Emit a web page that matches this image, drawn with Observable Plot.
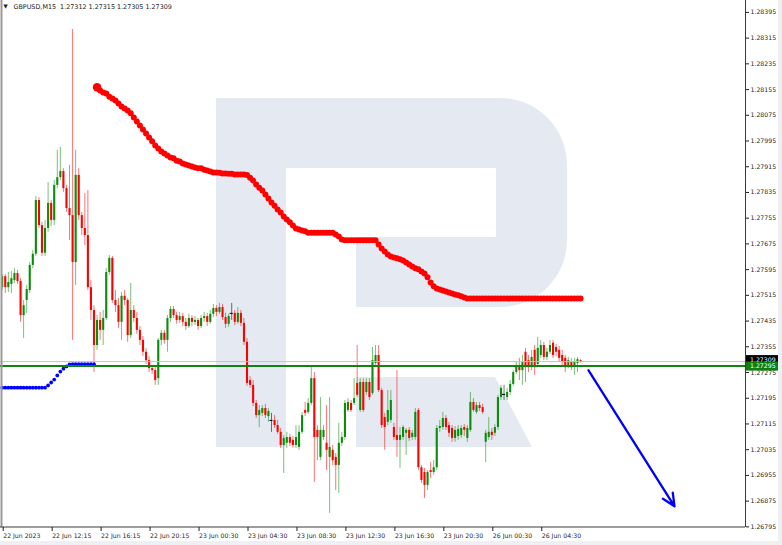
<!DOCTYPE html>
<html><head><meta charset="utf-8">
<script src="https://cdn.jsdelivr.net/npm/d3@7"></script>
<script src="https://cdn.jsdelivr.net/npm/@observablehq/plot@0.6"></script>
<style>html,body{margin:0;padding:0;background:#fff;overflow:hidden}#chart svg{display:block}</style>
</head><body><div id="chart"></div>
<script>
const symbolName = "GBPUSD,M15";

const openP = [1.27539,1.27573,1.27539,1.27549,1.27561,1.27583,1.27558,1.27452,1.27499,1.27530,
1.27608,1.27643,1.27810,1.27732,1.27646,1.27723,1.27801,1.27748,1.27857,1.27881,
1.27900,1.27847,1.27785,1.27763,1.27617,1.27888,1.27763,1.27723,1.27701,1.27539,
1.27468,1.27359,1.27437,1.27406,1.27443,1.27586,1.27630,1.27499,1.27483,1.27431,
1.27512,1.27499,1.27390,1.27468,1.27443,1.27406,1.27375,1.27338,1.27312,1.27287,
1.27281,1.27256,1.27375,1.27397,1.27375,1.27443,1.27471,1.27452,1.27437,1.27449,
1.27431,1.27418,1.27443,1.27431,1.27437,1.27418,1.27443,1.27449,1.27431,1.27456,
1.27474,1.27462,1.27477,1.27446,1.27425,1.27459,1.27459,1.27431,1.27459,1.27428,
1.27369,1.27250,1.27235,1.27179,1.27141,1.27148,1.27163,1.27138,1.27126,1.27126,
1.27110,1.27089,1.27048,1.27055,1.27073,1.27064,1.27048,1.27042,1.27089,1.27157,
1.27151,1.27179,1.27256,1.27095,1.27011,1.27073,1.27055,1.27011,1.27033,1.27011,
1.26986,1.27055,1.27073,1.27157,1.27179,1.27179,1.27241,1.27157,1.27244,1.27213,
1.27244,1.27210,1.27303,1.27328,1.27219,1.27135,1.27120,1.27126,1.27104,1.27079,
1.27064,1.27073,1.27086,1.27095,1.27073,1.27073,1.27157,1.26979,1.26964,1.26924,
1.26970,1.26964,1.26979,1.27101,1.27104,1.27132,1.27110,1.27101,1.27070,1.27076,
1.27079,1.27104,1.27070,1.27095,1.27182,1.27151,1.27172,1.27166,1.27058,1.27073,
1.27089,1.27086,1.27104,1.27197,1.27207,1.27197,1.27213,1.27238,1.27275,1.27297,
1.27281,1.27338,1.27312,1.27290,1.27344,1.27300,1.27328,1.27359,1.27322,1.27338,
1.27366,1.27353,1.27344,1.27328,1.27319,1.27297,1.27306,1.27293,1.27303,1.27312];

const highP = [1.27580,1.27580,1.27586,1.27589,1.27598,1.27592,1.27567,1.27499,1.27546,1.27617,
1.27655,1.27822,1.27819,1.27742,1.27748,1.27866,1.27810,1.27872,1.27966,1.27975,
1.27909,1.27857,1.27919,1.28342,1.27966,1.27909,1.27773,1.27832,1.27841,1.27561,
1.27483,1.27452,1.27462,1.27468,1.27598,1.27639,1.27636,1.27530,1.27505,1.27524,
1.27530,1.27505,1.27552,1.27483,1.27462,1.27418,1.27387,1.27350,1.27325,1.27297,
1.27293,1.27381,1.27406,1.27406,1.27452,1.27480,1.27480,1.27462,1.27462,1.27459,
1.27443,1.27456,1.27452,1.27449,1.27443,1.27452,1.27462,1.27459,1.27468,1.27487,
1.27483,1.27490,1.27487,1.27459,1.27456,1.27490,1.27468,1.27477,1.27468,1.27443,
1.27381,1.27262,1.27250,1.27188,1.27172,1.27172,1.27176,1.27163,1.27148,1.27141,
1.27126,1.27101,1.27079,1.27089,1.27083,1.27076,1.27110,1.27110,1.27151,1.27182,
1.27194,1.27297,1.27275,1.27110,1.27197,1.27110,1.27172,1.27197,1.27048,1.27023,
1.27117,1.27089,1.27188,1.27194,1.27188,1.27256,1.27359,1.27256,1.27256,1.27256,
1.27256,1.27353,1.27359,1.27359,1.27226,1.27148,1.27219,1.27219,1.27117,1.27281,
1.27104,1.27110,1.27101,1.27104,1.27095,1.27163,1.27163,1.26986,1.26977,1.26970,
1.26995,1.27001,1.27110,1.27126,1.27151,1.27141,1.27120,1.27110,1.27107,1.27110,
1.27110,1.27113,1.27110,1.27213,1.27194,1.27182,1.27182,1.27176,1.27095,1.27135,
1.27101,1.27113,1.27204,1.27235,1.27235,1.27226,1.27250,1.27281,1.27306,1.27319,
1.27328,1.27350,1.27328,1.27344,1.27359,1.27384,1.27375,1.27369,1.27350,1.27375,
1.27375,1.27363,1.27356,1.27344,1.27328,1.27322,1.27319,1.27319,1.27322,1.27315];

const lowP = [1.27530,1.27521,1.27524,1.27521,1.27552,1.27549,1.27431,1.27381,1.27459,1.27521,
1.27598,1.27636,1.27723,1.27636,1.27636,1.27711,1.27729,1.27732,1.27847,1.27872,
1.27835,1.27773,1.27686,1.27375,1.27546,1.27748,1.27701,1.27670,1.27530,1.27437,
1.27275,1.27344,1.27375,1.27359,1.27437,1.27577,1.27490,1.27462,1.27412,1.27375,
1.27483,1.27369,1.27381,1.27431,1.27394,1.27359,1.27325,1.27300,1.27275,1.27269,
1.27235,1.27235,1.27359,1.27363,1.27338,1.27431,1.27443,1.27425,1.27428,1.27418,
1.27406,1.27412,1.27418,1.27421,1.27406,1.27412,1.27431,1.27418,1.27425,1.27446,
1.27449,1.27456,1.27437,1.27412,1.27415,1.27437,1.27421,1.27425,1.27418,1.27359,
1.27232,1.27226,1.27169,1.27132,1.27104,1.27138,1.27132,1.27120,1.27089,1.27101,
1.27083,1.27039,1.26961,1.27039,1.27045,1.27039,1.27039,1.27033,1.27083,1.27138,
1.27145,1.27172,1.26933,1.27001,1.27001,1.27064,1.26970,1.26837,1.26986,1.26908,
1.26899,1.27045,1.27064,1.27151,1.27151,1.27172,1.27197,1.27151,1.27151,1.27204,
1.27188,1.27204,1.27297,1.27213,1.27101,1.27033,1.27110,1.27117,1.27064,1.27011,
1.26977,1.27064,1.27017,1.27061,1.27064,1.27064,1.26970,1.26930,1.26883,1.26908,
1.26945,1.26955,1.26970,1.27089,1.27095,1.27095,1.27073,1.27058,1.27058,1.27064,
1.27070,1.27076,1.27058,1.27089,1.27151,1.27145,1.27154,1.27145,1.26995,1.27064,
1.27064,1.27076,1.27095,1.27188,1.27188,1.27188,1.27204,1.27232,1.27269,1.27250,
1.27235,1.27244,1.27275,1.27281,1.27266,1.27293,1.27319,1.27312,1.27312,1.27331,
1.27319,1.27325,1.27306,1.27290,1.27275,1.27287,1.27281,1.27266,1.27275,1.27305];

const closeP = [1.27573,1.27539,1.27555,1.27567,1.27583,1.27558,1.27452,1.27483,1.27533,1.27608,
1.27643,1.27810,1.27732,1.27646,1.27723,1.27801,1.27748,1.27857,1.27881,1.27900,
1.27847,1.27785,1.27763,1.27617,1.27888,1.27763,1.27723,1.27701,1.27539,1.27468,
1.27359,1.27437,1.27406,1.27443,1.27586,1.27630,1.27499,1.27483,1.27431,1.27512,
1.27499,1.27390,1.27468,1.27443,1.27406,1.27375,1.27338,1.27312,1.27287,1.27281,
1.27250,1.27375,1.27397,1.27375,1.27443,1.27471,1.27452,1.27437,1.27449,1.27431,
1.27418,1.27443,1.27431,1.27437,1.27418,1.27443,1.27449,1.27431,1.27456,1.27474,
1.27462,1.27477,1.27446,1.27425,1.27449,1.27459,1.27431,1.27459,1.27428,1.27369,
1.27241,1.27235,1.27179,1.27141,1.27157,1.27163,1.27141,1.27154,1.27126,1.27110,
1.27089,1.27048,1.27070,1.27073,1.27055,1.27048,1.27073,1.27089,1.27141,1.27148,
1.27179,1.27256,1.27073,1.27073,1.27095,1.27095,1.27033,1.27042,1.27001,1.26986,
1.27055,1.27073,1.27179,1.27182,1.27157,1.27194,1.27204,1.27244,1.27157,1.27244,
1.27197,1.27312,1.27328,1.27219,1.27110,1.27104,1.27157,1.27188,1.27073,1.27064,
1.27079,1.27104,1.27095,1.27070,1.27086,1.27151,1.26979,1.26939,1.26924,1.26964,
1.26964,1.26979,1.27101,1.27107,1.27132,1.27104,1.27086,1.27070,1.27095,1.27098,
1.27101,1.27095,1.27101,1.27182,1.27157,1.27172,1.27163,1.27151,1.27086,1.27089,
1.27079,1.27104,1.27197,1.27226,1.27207,1.27213,1.27238,1.27275,1.27297,1.27281,
1.27306,1.27290,1.27290,1.27322,1.27290,1.27350,1.27359,1.27322,1.27338,1.27359,
1.27328,1.27338,1.27319,1.27306,1.27290,1.27312,1.27290,1.27309,1.27315,1.27309];

// red dotted indicator, first bar index 31
const redStart = 31;
const redLine = [1.28162,1.28152,1.28146,1.28143,1.28133,1.28127,1.28121,1.28112,1.28102,1.28096,
1.28090,1.28081,1.28068,1.28056,1.28043,1.28031,1.28018,1.28006,1.27994,1.27981,
1.27972,1.27962,1.27956,1.27950,1.27944,1.27941,1.27934,1.27931,1.27925,1.27922,
1.27919,1.27916,1.27913,1.27910,1.27910,1.27906,1.27903,1.27900,1.27897,1.27897,
1.27896,1.27894,1.27894,1.27893,1.27893,1.27891,1.27891,1.27891,1.27891,1.27889,
1.27881,1.27872,1.27860,1.27850,1.27841,1.27829,1.27816,1.27804,1.27794,1.27782,
1.27773,1.27760,1.27751,1.27742,1.27732,1.27723,1.27720,1.27717,1.27714,1.27710,
1.27710,1.27710,1.27710,1.27710,1.27710,1.27710,1.27710,1.27710,
1.27704,1.27698,1.27689,
1.27686,1.27686,1.27686,1.27686,1.27686,1.27686,1.27686,1.27686,1.27686,1.27686,1.27686,
1.27673,1.27661,1.27651,1.27642,1.27636,1.27633,1.27630,1.27627,
1.27623,1.27617,1.27611,1.27605,1.27599,1.27596,1.27589,1.27583,1.27571,1.27555,
1.27543,1.27536,1.27533,1.27530,1.27527,1.27524,1.27521,1.27518,1.27515,1.27512,
1.27508,
1.27505,1.27505,1.27505,1.27505,1.27505,1.27505,1.27505,1.27505,1.27505,1.27505,
1.27505,1.27505,1.27505,1.27505,1.27505,1.27505,1.27505,1.27505,1.27505,1.27505,
1.27505,1.27505,1.27505,1.27505,1.27505,1.27505,1.27505,1.27505,1.27505,1.27505,
1.27505,1.27505,1.27505,1.27505,1.27505,1.27505,1.27505,1.27505];

// blue dotted indicator, bars 0..30
const blueLine = [1.27228,1.27228,1.27228,1.27228,1.27228,1.27228,1.27228,1.27228,1.27228,1.27228,
1.27228,1.27228,1.27228,1.27228,1.27228,1.27235,1.27244,1.27253,1.27266,1.27278,
1.27287,1.27294,1.27300,1.27301,1.27301,1.27301,1.27301,1.27301,1.27301,1.27301,1.27301];

const levelPrice = 1.27295;
const bidPrice = 1.27309;

const xTickBars = [0,16,32,48,64,80,96,112,128,144,160,176];
const xTickLabels = ["22 Jun 2023","22 Jun 12:15","22 Jun 16:15","22 Jun 20:15","23 Jun 00:30","23 Jun 04:30","23 Jun 08:30","23 Jun 12:30","23 Jun 16:30","23 Jun 20:30","26 Jun 00:30","26 Jun 04:30"];
const yTicks = [1.26795,1.26875,1.26955,1.27035,1.27115,1.27195,1.27275,1.27355,1.27435,1.27515,1.27595,1.27675,1.27755,1.27835,1.27915,1.27995,1.28075,1.28155,1.28235,1.28315,1.28395];

const arrowFrom = [191.6, 1.27282];
const arrowTo = [219.7, 1.26859];

// ---- build tables ----
const bars = closeP.map((c, i) => ({i, open: openP[i], high: highP[i], low: lowP[i], close: c}));
const redPts = redLine.map((v, k) => ({i: redStart + k, v, first: k === 0}));
const bluePts = blueLine.map((v, i) => ({i, v}));
const candleColor = d => d.close > d.open ? "#0c8c0c" : d.close < d.open ? "#ff0000" : "#000000";
const labelOf = new Map(xTickBars.map((b, k) => [b, xTickLabels[k]]));
const last = bars[bars.length - 1];
const f5 = d3.format(".5f");
const titleText = `${symbolName}  ${f5(last.open)} ${f5(last.high)} ${f5(last.low)} ${f5(last.close)}`;

const xDomain = [-0.556, 242.9];
const yDomain = [1.26793, 1.28432];

const SVGNS = "http://www.w3.org/2000/svg";
function watermark(index, scales, values, dim) {
  const g = document.createElementNS(SVGNS, "g");
  const bg = document.createElementNS(SVGNS, "path");
  bg.setAttribute("fill", "#eef0f3");
  bg.setAttribute("d", `M${dim.width-4},0H${dim.width}V${dim.height}H0V${dim.height-4}H${dim.width-4}Z`);
  g.appendChild(bg);
  const p1 = document.createElementNS(SVGNS, "path");
  p1.setAttribute("fill", "#e5eaf2");
  p1.setAttribute("d", "M216,98H500A67,67 0 0 1 567,165V240A67,67 0 0 1 500,307H356V237H496V168H286V447H216Z M356,377H495L532,447H356Z");
  g.appendChild(p1);
  return g;
}

function priceBoxes(index, scales, values, dim) {
  const g = document.createElementNS(SVGNS, "g");
  g.setAttribute("text-anchor", "start");
  const x0 = dim.width - dim.marginRight + 1;
  const boxes = [{p: bidPrice, fill: "#000000", dy: -1.5}, {p: levelPrice, fill: "#0f7f0f", dy: 0.5}];
  for (const b of boxes) {
    const y = scales.y(b.p) + b.dy;
    const r = document.createElementNS(SVGNS, "rect");
    r.setAttribute("x", x0); r.setAttribute("y", y - 4.5);
    r.setAttribute("width", 32); r.setAttribute("height", 9);
    r.setAttribute("fill", b.fill);
    g.appendChild(r);
    const t = document.createElementNS(SVGNS, "text");
    t.setAttribute("x", x0 + 4); t.setAttribute("y", y + 2.3);
    t.setAttribute("text-anchor", "start");
    t.setAttribute("fill", "#fff"); t.setAttribute("font-size", "6.2");
    t.textContent = f5(b.p);
    g.appendChild(t);
  }
  return g;
}

const chart = Plot.plot({
  width: 782, height: 545,
  marginLeft: 0, marginRight: 37, marginTop: 0, marginBottom: 18,
  style: {fontFamily: "'DejaVu Sans', sans-serif", color: "#1f1f1f", background: "#ffffff", overflow: "visible"},
  x: {type: "linear", domain: xDomain, axis: null},
  y: {type: "linear", domain: yDomain, axis: null},
  color: {type: "identity"},
  marks: [
    watermark,
    Plot.ruleX(bars, {x: "i", y1: "low", y2: "high", stroke: candleColor, strokeWidth: 1, strokeOpacity: 0.55}),
    Plot.ruleX(bars, {x: "i", y1: "open", y2: "close", stroke: candleColor, strokeWidth: 2.1}),
    Plot.ruleY(bars.filter(d => d.open === d.close), {y: "close", x1: d => d.i - 0.5, x2: d => d.i + 0.5, stroke: "#000", strokeWidth: 1}),
    Plot.dot(bluePts, {x: "i", y: "v", r: 1.9, fill: "#0000ff", stroke: "none"}),
    Plot.dot(redPts, {x: "i", y: "v", r: d => d.first ? 3.8 : 1.9, fill: "#ff0000", stroke: "none"}),
    Plot.ruleY([bidPrice], {stroke: "#c4c4c4", strokeWidth: 1}),
    Plot.ruleY([levelPrice], {stroke: "#138213", strokeWidth: 2}),
    Plot.arrow([{x1: arrowFrom[0], y1: arrowFrom[1], x2: arrowTo[0], y2: arrowTo[1]}],
      {x1: "x1", y1: "y1", x2: "x2", y2: "y2", stroke: "#0000ff", strokeWidth: 2.3, headLength: 9, headAngle: 50}),
    Plot.ruleX([xDomain[0]], {stroke: "#9a9a9a", strokeWidth: 2, dx: 1}),
    Plot.ruleX([xDomain[1]], {stroke: "#3a3a3a", strokeWidth: 1}),
    Plot.ruleY([yDomain[0]], {stroke: "#3a3a3a", strokeWidth: 1, dy: -0.5}),
    Plot.axisY(yTicks, {anchor: "right", tickSize: 3, tickPadding: 2, tickFormat: d3.format(".5f"), fontSize: 6.2}),
    Plot.axisX(xTickBars, {anchor: "bottom", tickSize: 4, tickPadding: 2, tickFormat: d => labelOf.get(d), textAnchor: "start", dx: 1, fontSize: 6.2}),
    priceBoxes,
    Plot.text(["▼"], {frameAnchor: "top-left", dx: 3, dy: 4, fontSize: 5.5, textAnchor: "start", lineAnchor: "top"}),
    Plot.text([titleText], {frameAnchor: "top-left", dx: 13, dy: 3.5, fontSize: 6.4, textAnchor: "start", lineAnchor: "top", fill: "#1a1a1a"})
  ]
});
document.getElementById("chart").appendChild(chart);
</script>
</body></html>
